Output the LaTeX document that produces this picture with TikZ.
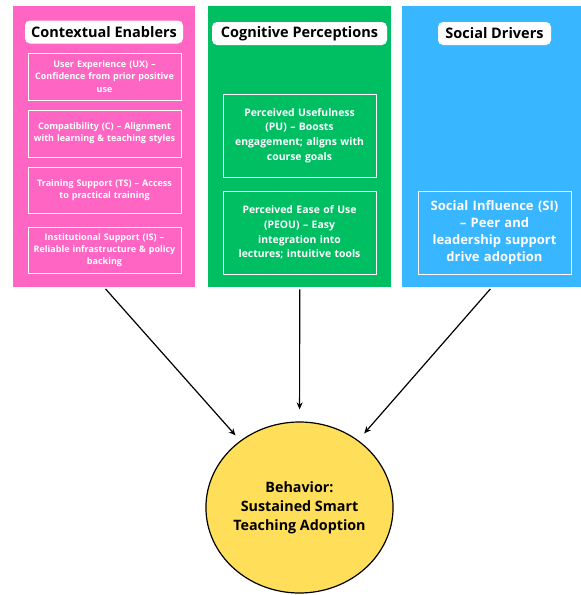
\documentclass[tikz,border=0pt]{standalone}
\usepackage{fontspec}
\setmainfont{Open Sans}
\usetikzlibrary{arrows.meta,shapes.geometric}

\definecolor{ctxpink}{HTML}{FF66C4}
\definecolor{cogreen}{HTML}{00BF63}
\definecolor{socblue}{HTML}{38B6FF}
\definecolor{behyellow}{HTML}{FFDE59}

\tikzset{
  panel/.style={draw=none, inner sep=0pt, anchor=north west},
  headbox/.style={fill=white, draw=none, rounded corners=5pt, inner sep=0pt,
    minimum height=23pt, font=\fontsize{14.5}{16}\selectfont\bfseries, text=black},
  factor/.style={draw=white, line width=1pt, text=white, align=center,
    inner xsep=3pt, inner ysep=0pt},
  smallfactor/.style={factor, text width=147pt,
    font=\fontsize{9}{12.3}\selectfont\bfseries},
  midfactor/.style={factor, text width=147pt,
    font=\fontsize{10.4}{14.7}\selectfont\bfseries},
  bigfactor/.style={factor, text width=147pt,
    font=\fontsize{13}{17}\selectfont\bfseries},
  outcome/.style={ellipse, fill=behyellow, draw=black, line width=1.2pt,
    inner sep=0pt, minimum width=185pt, minimum height=171pt, align=center,
    font=\fontsize{14.3}{19}\selectfont\bfseries},
  link/.style={-{Stealth[length=7pt,width=6pt]}, line width=1.2pt, black}
}

\begin{document}
\begin{tikzpicture}[x=1pt,y=-1pt]
  \useasboundingbox (0,0) rectangle (581,595);

  % three construct panels
  \node[panel, fill=ctxpink, minimum width=182pt, minimum height=281pt] (ctx) at (13,6) {};
  \node[panel, fill=cogreen, minimum width=183pt, minimum height=281pt] (cog) at (208,6) {};
  \node[panel, fill=socblue, minimum width=179pt, minimum height=281pt] (soc) at (402,6) {};

  % panel headings
  \node[headbox, minimum width=158pt] (ctxT) at (104,32) {Contextual Enablers};
  \node[headbox, minimum width=175pt] (cogT) at (299.5,33.5) {Cognitive Perceptions};
  \node[headbox, minimum width=113pt] (socT) at (494.5,33.5) {Social Drivers};

  % contextual enablers
  \node[smallfactor, minimum height=47pt] (ux) at (104.5,76.5)
    {User Experience (UX) –\\ Confidence from prior positive\\ use};
  \node[smallfactor, minimum height=47pt] (cc) at (104.5,133.5)
    {Compatibility (C) – Alignment\\ with learning \& teaching styles};
  \node[smallfactor, minimum height=46pt] (ts) at (104.5,190)
    {Training Support (TS) – Access\\ to practical training};
  \node[smallfactor, minimum height=46pt] (is) at (104.5,250)
    {Institutional Support (IS) –\\ Reliable infrastructure \& policy\\ backing};

  % cognitive perceptions
  \node[midfactor, minimum height=83pt] (pu) at (299.5,135.5)
    {Perceived Usefulness\\ (PU) – Boosts\\ engagement; aligns with\\ course goals};
  \node[midfactor, minimum height=83pt] (peou) at (299.5,232.5)
    {Perceived Ease of Use\\ (PEOU) – Easy\\ integration into\\ lectures; intuitive tools};

  % social drivers
  \node[bigfactor, minimum height=83pt] (si) at (494.5,232.5)
    {Social Influence (SI)\\ – Peer and\\ leadership support\\ drive adoption};

  % outcome
  \node[outcome] (beh) at (299.5,507.5)
    {Behavior:\\ Sustained Smart\\ Teaching Adoption};

  % influence links
  \draw[link, shorten <=2pt, shorten >=7pt] (ctx.south) -- (beh);
  \draw[link, shorten <=2pt, shorten >=12pt] (cog.south) -- (beh);
  \draw[link, shorten <=2pt, shorten >=9pt] (soc.south) -- (beh);
\end{tikzpicture}
\end{document}
